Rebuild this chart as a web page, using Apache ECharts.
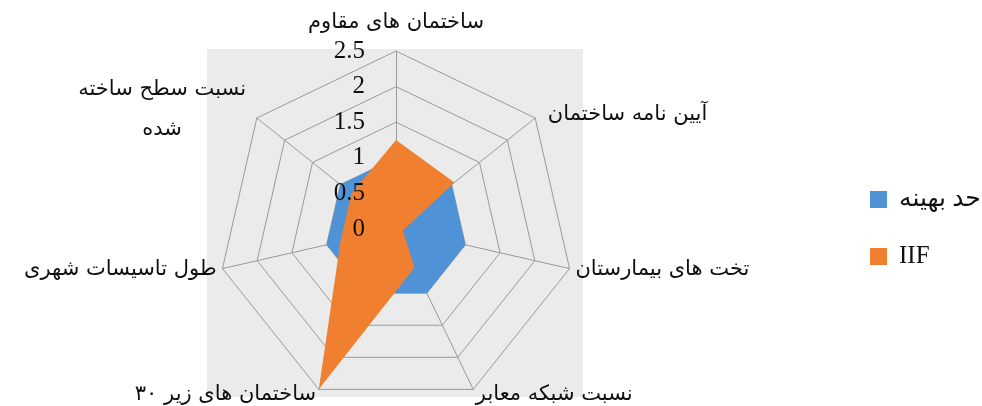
<!DOCTYPE html>
<html><head><meta charset="utf-8">
<script src="https://cdn.jsdelivr.net/npm/echarts@6/dist/echarts.min.js"></script>
<style>html,body{margin:0;padding:0;background:#fff}#c{width:982px;height:406px}</style>
</head><body><div id="c"></div>
<script>
// Categories in clockwise order starting at the top (as in the reference)
const categories = ['ساختمان های مقاوم', 'آیین نامه ساختمان', 'تخت های بیمارستان', 'نسبت شبکه معابر', 'ساختمان های زیر ۳۰', 'طول تاسیسات شهری', 'نسبت سطح ساخته\nشده'];
const seriesNames = ['حد بهینه', 'IIF'];
const optimalValues = [1, 1, 1, 1, 1, 1, 1];
const iifValues = [1.25, 1.05, 0.1, 0.6, 2.5, 0.8, 0.8];
const tickLabels = [0, 0.5, 1, 1.5, 2, 2.5];

const AR = 'DejaVu Sans';
const NUM = 'Liberation Serif';
const CX = 396, CY = 229, R = 178;
const NAME_SIZE = 21;

// ECharts radar goes counter-clockwise; reorder to get clockwise layout
const order = categories.map((_, i) => (categories.length - i) % categories.length);
const tMin = tickLabels[0], tMax = tickLabels[tickLabels.length - 1], tStep = tickLabels[1] - tickLabels[0];

const chart = echarts.init(document.getElementById('c'), null, {renderer: 'canvas'});
chart.setOption({
  animation: false,
  backgroundColor: '#ffffff',
  graphic: [{
    type: 'rect', z: -10, silent: true,
    shape: {x: 207, y: 49, width: 376, height: 348},
    style: {fill: '#ebebeb'}
  }],
  legend: {
    orient: 'vertical', left: 865, top: 182, itemGap: 32,
    itemWidth: 17, itemHeight: 17, icon: 'rect',
    data: seriesNames,
    textStyle: {fontFamily: NUM + ', ' + AR, fontSize: 25, color: '#111', lineHeight: 20, padding: [0, 0, 0, 7]}
  },
  grid: {left: CX, top: CY - R, width: 1, height: R, containLabel: false, z: 10},
  xAxis: {type: 'value', show: false},
  yAxis: {
    type: 'value', min: tMin, max: tMax, interval: tStep, z: 10,
    axisLine: {show: false}, axisTick: {show: false}, splitLine: {show: false},
    axisLabel: {margin: 31, fontFamily: NUM, fontSize: 25, color: '#111', formatter: v => String(v)}
  },
  radar: {
    center: [CX, CY], radius: R, startAngle: 90, shape: 'polygon',
    splitNumber: (tMax - tMin) / tStep,
    indicator: order.map(i => ({name: categories[i], min: tMin, max: tMax})),
    axisNameGap: 6,
    axisName: {
      color: '#111', fontFamily: AR, fontSize: NAME_SIZE,
      formatter: function (name) {
        const idx = categories.indexOf(name);
        if (idx === 0) return '{top|' + name + '}';
        if (idx === 6) return '{ml|' + name + '}';
        if (idx === 1) return '{ur|' + name + '}';
        return '{n|' + name + '}';
      },
      rich: {
        n: {fontFamily: AR, fontSize: NAME_SIZE, color: '#111'},
        ur: {fontFamily: AR, fontSize: NAME_SIZE, color: '#111', padding: [0, 0, 0, 8]},
        top: {fontFamily: AR, fontSize: NAME_SIZE, color: '#111', padding: [0, 0, 12, 0]},
        ml: {fontFamily: AR, fontSize: NAME_SIZE, color: '#111', lineHeight: 40, width: 172, align: 'center', padding: [0, 4, 10, 0]}
      }
    },
    axisLine: {lineStyle: {color: '#9a9a9a', width: 1}},
    splitLine: {lineStyle: {color: '#9a9a9a', width: 1}},
    splitArea: {show: false},
    axisTick: {show: false},
    axisLabel: {show: false}
  },
  series: [
    {
      name: seriesNames[0], type: 'radar', symbol: 'none', z: 2,
      itemStyle: {color: '#4f93d6'},
      lineStyle: {width: 0},
      areaStyle: {color: '#4f93d6', opacity: 1},
      data: [{name: seriesNames[0], value: order.map(i => optimalValues[i])}]
    },
    {
      name: seriesNames[1], type: 'radar', symbol: 'none', z: 3,
      itemStyle: {color: '#f08030'},
      lineStyle: {width: 0},
      areaStyle: {color: '#f08030', opacity: 1},
      data: [{name: seriesNames[1], value: order.map(i => iifValues[i])}]
    }
  ]
});
</script></body></html>
